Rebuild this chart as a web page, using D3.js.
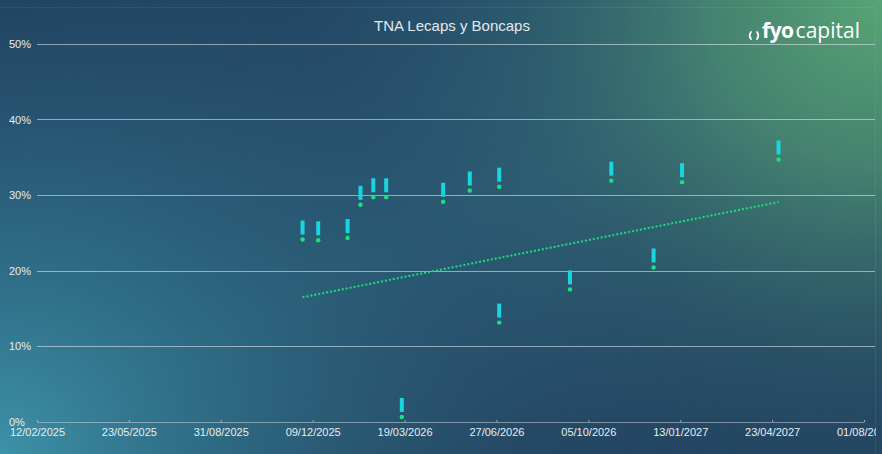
<!DOCTYPE html>
<html><head><meta charset="utf-8">
<script src="https://cdn.jsdelivr.net/npm/d3@7"></script>
<style>html,body{margin:0;padding:0;background:#21405f;overflow:hidden}svg{display:block}</style>
</head><body>
<svg id="c" width="882" height="454"></svg>
<script>
// ---- data ----
const maturities = ["2025-11-28","2025-12-15","2026-01-16","2026-01-30","2026-02-13","2026-02-27","2026-03-16","2026-04-30","2026-05-29","2026-06-30","2026-06-30","2026-09-15","2026-10-30","2026-12-15","2027-01-15","2027-04-30"];
const tnaValues = [24.1,24.0,24.3,28.7,29.7,29.7,0.6,29.1,30.6,31.1,13.1,17.5,31.9,20.4,31.7,34.7];
const trendDates = ["2025-11-28","2027-04-30"];
const trendValues = [16.45,29.07];
const xTickLabels = ["12/02/2025","23/05/2025","31/08/2025","09/12/2025","19/03/2026","27/06/2026","05/10/2026","13/01/2027","23/04/2027","01/08/2027"];
const yTicks = [0,10,20,30,40,50];
const title = "TNA Lecaps y Boncaps";

const svg = d3.select("#c");
const W = 882, H = 454;
const parseISO = d3.timeParse("%Y-%m-%d");
const parseDMY = d3.timeParse("%d/%m/%Y");
const fmtDMY = d3.timeFormat("%d/%m/%Y");

// background
const defs = svg.append("defs");
defs.append("clipPath").attr("id","clipc").append("rect").attr("x",0).attr("y",0).attr("width",876).attr("height",H);
const base = defs.append("linearGradient").attr("id","base").attr("x1","0").attr("y1","0").attr("x2","1").attr("y2","1");
base.append("stop").attr("offset","0").attr("stop-color","#1f3f5e");
base.append("stop").attr("offset","0.5").attr("stop-color","#2a5872");
base.append("stop").attr("offset","1").attr("stop-color","#213f5d");
const rg1 = defs.append("radialGradient").attr("id","teal").attr("gradientUnits","userSpaceOnUse")
  .attr("cx",0).attr("cy",H).attr("r",520);
rg1.append("stop").attr("offset","0").attr("stop-color","#3c92a8").attr("stop-opacity",1);
rg1.append("stop").attr("offset","0.55").attr("stop-color","#2f6f88").attr("stop-opacity",0.5);
rg1.append("stop").attr("offset","1").attr("stop-color","#2a5872").attr("stop-opacity",0);
const rg2 = defs.append("radialGradient").attr("id","green").attr("gradientUnits","userSpaceOnUse")
  .attr("cx",W).attr("cy",0).attr("r",560);
rg2.append("stop").attr("offset","0").attr("stop-color","#58a475").attr("stop-opacity",1);
rg2.append("stop").attr("offset","0.3").attr("stop-color","#4a8b70").attr("stop-opacity",0.85);
rg2.append("stop").attr("offset","0.65").attr("stop-color","#34696f").attr("stop-opacity",0.4);
rg2.append("stop").attr("offset","1").attr("stop-color","#2a5872").attr("stop-opacity",0);
const rg3 = defs.append("radialGradient").attr("id","navy").attr("gradientUnits","userSpaceOnUse")
  .attr("cx",W).attr("cy",H).attr("r",380);
rg3.append("stop").attr("offset","0").attr("stop-color","#203e5d").attr("stop-opacity",1);
rg3.append("stop").attr("offset","1").attr("stop-color","#203e5d").attr("stop-opacity",0);
svg.append("rect").attr("width",W).attr("height",H).attr("fill","url(#base)");
svg.append("rect").attr("width",W).attr("height",H).attr("fill","url(#navy)");
svg.append("rect").attr("width",W).attr("height",H).attr("fill","url(#teal)");
svg.append("rect").attr("width",W).attr("height",H).attr("fill","url(#green)");
// faint frame
svg.append("path").attr("d",`M0,7.5H875.5V${H}`).attr("fill","none").attr("stroke","rgba(255,255,255,0.07)");

const main = svg.append("g").attr("clip-path","url(#clipc)");

// scales
const xTickDates = xTickLabels.map(parseDMY);
const x = d3.scaleTime().domain([xTickDates[0], xTickDates[xTickDates.length-1]]).range([37, 864]);
const y = d3.scaleLinear().domain([0,50]).range([421.5, 44]);

// gridlines
main.append("g").selectAll("line").data(yTicks.filter(d=>d>0)).join("line")
  .attr("x1",37).attr("x2",875).attr("y1",d=>Math.round(y(d))+0.5).attr("y2",d=>Math.round(y(d))+0.5)
  .attr("stroke","rgba(220,228,235,0.6)").attr("stroke-width",1);
// y labels
main.append("g").selectAll("text").data(yTicks).join("text")
  .attr("x",9).attr("y",d=>y(d)+4).text(d=>d+"%")
  .attr("font-family","Liberation Sans, Arial, sans-serif").attr("font-size",11).attr("fill","#e6edf1");

// x axis
const xAxis = d3.axisBottom(x).tickValues(xTickDates).tickFormat(fmtDMY).tickSize(-2).tickSizeOuter(0);
const gx = main.append("g").attr("transform","translate(0,422)").call(xAxis);
gx.select(".domain").attr("stroke","rgba(200,210,220,0.55)");
gx.selectAll(".tick line").attr("stroke","rgba(200,210,220,0.7)");
gx.selectAll(".tick text").attr("fill","#e6edf1").attr("font-family","Liberation Sans, Arial, sans-serif")
  .attr("font-size",11).attr("dy","0.71em").attr("y",6);

// title
main.append("text").attr("x",452).attr("y",31).attr("text-anchor","middle").text(title)
  .attr("font-family","Liberation Sans, Arial, sans-serif").attr("font-size",15).attr("fill","#e3e9ed");

// logo
const logo = main.append("g");
logo.append("path").attr("d","M751,39 q-2.5,-3.5 0,-7 M757,32 q2.5,3.5 0,7").attr("fill","none").attr("stroke","#ffffff").attr("stroke-width",1.8).attr("stroke-linecap","round");
const lt = logo.append("text").attr("x",762).attr("y",38).attr("font-family","Open Sans, sans-serif").attr("font-size",21).attr("fill","#ffffff");
lt.append("tspan").attr("font-weight","bold").attr("letter-spacing","-0.5").text("fyo");
lt.append("tspan").attr("font-weight","normal").attr("dx",2).text("capital");

// trend line
const trend = trendDates.map((d,i)=>({d:parseISO(d), v:trendValues[i]}));
main.append("path").datum(trend)
  .attr("d", d3.line().x(d=>x(d.d)).y(d=>y(d.v)))
  .attr("fill","none").attr("stroke","#19e07c").attr("stroke-width",2).attr("stroke-dasharray","2,2");

// points
const pts = maturities.map((d,i)=>({d:parseISO(d), v:tnaValues[i]}));
const g = main.append("g");
g.selectAll("rect").data(pts).join("rect")
  .attr("x",d=>x(d.d)-2).attr("y",d=>y(d.v)-19).attr("width",4).attr("height",14)
  .attr("fill","#17d6df");
g.selectAll("circle").data(pts).join("circle")
  .attr("cx",d=>x(d.d)).attr("cy",d=>y(d.v)).attr("r",2.2).attr("fill","#16e57c");
</script>
</body></html>
